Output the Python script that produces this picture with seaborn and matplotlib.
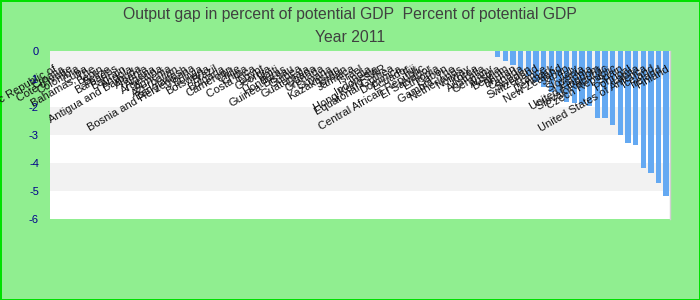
import matplotlib
matplotlib.use("Agg")
import matplotlib.pyplot as plt
import seaborn as sns
import pandas as pd

countries = [
    "Congo, Democratic Republic of", "Croatia", "Cote d'Ivoire", "Colombia", "Cuba",
    "Bahamas, The", "Benin", "Belize", "Barbados", "Bahrain",
    "Angola", "Antigua and Barbuda", "Albania", "Algeria", "Argentina",
    "Armenia", "Azerbaijan", "Bangladesh", "Bosnia and Herzegovina", "Bolivia",
    "Botswana", "Brazil", "Bulgaria", "Cameroon", "Chile",
    "China", "Costa Rica", "Egypt", "Georgia", "Haiti",
    "Honduras", "Guinea-Bissau", "Guinea", "Guatemala", "Ghana",
    "Grenada", "Guyana", "Kazakhstan", "Jordan", "Jamaica",
    "Israel", "India", "Indonesia", "Hong Kong SAR", "Equatorial Guinea",
    "Dominica", "Ecuador", "Fiji", "Central African Republic", "El Salvador",
    "Ethiopia", "Gabon", "Gambia, The", "Netherlands", "Norway",
    "Korea", "Australia", "Germany",
    "Austria", "Belgium", "Bhutan", "Canada", "Sweden",
    "Switzerland", "France", "Denmark", "New Zealand", "Japan",
    "Italy", "Slovenia", "Estonia", "United Kingdom", "Slovak Republic",
    "Czech Republic", "Spain", "Portugal", "Latvia", "United States of America",
    "Iceland", "Ireland", "Finland",
]

values = [0.0] * 58 + [
    -0.2, -0.35, -0.5, -0.7, -0.9, -1.1, -1.3, -1.45, -1.5,
    -1.81, -1.87, -1.9, -1.95, -2.38, -2.38, -2.63, -2.99,
    -3.27, -3.35, -4.17, -4.35, -4.70, -5.17,
]

y_ticks = [0, -1, -2, -3, -4, -5, -6]

title_line1 = "Output gap in percent of potential GDP  Percent of potential GDP"
title_line2 = "Year 2011"

assert len(countries) == len(values)

df = pd.DataFrame({"country": countries, "value": values})

sns.set_theme(style="white")
plt.rcParams["font.family"] = ["Liberation Sans", "DejaVu Sans"]

fig = plt.figure(figsize=(7, 3), dpi=100)
fig.patch.set_facecolor("#90EE90")
fig.patch.set_edgecolor("#00E000")
fig.patch.set_linewidth(2)

ax = fig.add_axes([50 / 700, 1 - 219 / 300, 620 / 700, 168 / 300])
ax.set_facecolor("white")
ax.set_axisbelow(False)

for top in y_ticks[0::2][:-1]:
    ax.axhspan(top - 1, top, color="#F2F2F2", zorder=0, lw=0)

sns.barplot(data=df, x="country", y="value", color="#64A9F2", saturation=1,
            width=0.7, ax=ax, zorder=2, edgecolor="none", linewidth=0)

ax.set_ylim(min(y_ticks), max(y_ticks))
ax.set_xlim(-0.5, len(countries) - 0.5)
ax.set_yticks(y_ticks)
ax.set_yticklabels([str(t) for t in y_ticks], color="#00008B", fontsize=8)
ax.set_xlabel("")
ax.set_ylabel("")

ax.xaxis.tick_top()
ax.set_xticks(range(len(countries)))
ax.set_xticklabels(countries, rotation=30, ha="right", va="top",
                   rotation_mode="anchor", fontsize=8, color="#111111")
ax.tick_params(axis="x", length=0, pad=-9)
ax.tick_params(axis="y", length=0, pad=8)

for s in ["left", "top", "bottom"]:
    ax.spines[s].set_visible(False)
ax.spines["right"].set_color("#D0D0D0")
ax.spines["right"].set_linewidth(1)

fig.text(0.5, 1 - 15 / 300, title_line1, ha="center", va="center",
         fontsize=11.3, color="#404040")
fig.text(0.5, 1 - 37 / 300, title_line2, ha="center", va="center",
         fontsize=11.3, color="#404040")

fig.savefig("out.png", dpi=100, facecolor=fig.get_facecolor(),
            edgecolor=fig.get_edgecolor())
